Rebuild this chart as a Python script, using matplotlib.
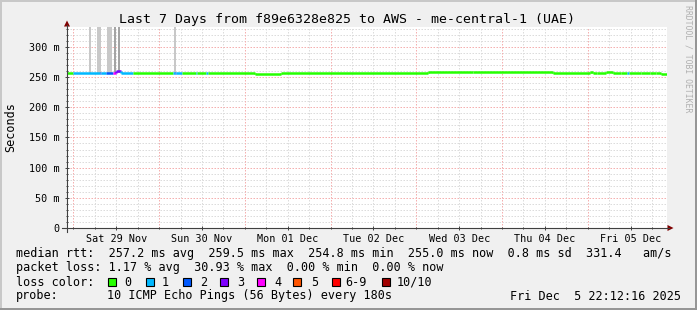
import matplotlib
matplotlib.use('Agg')
import matplotlib.pyplot as plt
from matplotlib.lines import Line2D
from matplotlib.patches import Polygon, Rectangle
from matplotlib.ticker import MultipleLocator, FixedLocator

# ---------------- data (hours since Sat 29 Nov 00:00) ----------------
T_START = -1.8
T_END = 166.2

seg_start = [-1.8, 0.0, 7.3, 7.6, 9.0, 11.2, 11.8, 13.4, 16.8, 28.0, 28.3, 28.8,
             30.5, 34.2, 34.7, 37.2, 37.8, 50.7, 58.2, 99.4, 112.0, 134.4,
             144.5, 145.6, 146.7, 149.2, 151.2, 153.4, 155.1, 155.6, 159.0,
             161.3, 163.2, 164.6]
seg_median = [257.5, 257.5, 257.5, 257.5, 257.5, 257.5, 259.5, 257.5, 257.5, 257.5,
              257.5, 257.5, 257.5, 257.5, 257.5, 257.5, 257.5, 255.8, 257.5, 258.8,
              258.2, 257.5, 258.8, 256.0, 257.5, 258.5, 256.5, 257.5, 257.5, 256.8,
              257.5, 257.0, 256.0, 255.0]
seg_loss = [0, 1, 2, 1, 2, 4, 3, 1, 0, 1, 2, 1, 0, 1, 0, 1, 0, 0, 0, 0, 0, 0,
            0, 0, 0, 0, 0, 0, 1, 0, 0, 0, 0, 0]

smoke_start = [4.4, 6.7, 9.5, 11.4, 12.5, 28.2]
smoke_end = [4.8, 7.8, 10.9, 11.8, 13.0, 28.7]
smoke_bottom = [257.0, 257.0, 257.0, 257.0, 257.0, 257.0]
smoke_top = [820.0, 760.0, 900.0, 1200.0, 1100.0, 700.0]
smoke_dense = [0, 0, 0, 1, 1, 0]

loss_labels = ['0', '1', '2', '3', '4', '5', '6-9', '10/10']
loss_colors = ['#26ff00', '#00b8ff', '#0059ff', '#7e00ff', '#ff00ff',
               '#ff5500', '#ff0000', '#a10000']

day_labels = ['Sat 29 Nov', 'Sun 30 Nov', 'Mon 01 Dec', 'Tue 02 Dec',
              'Wed 03 Dec', 'Thu 04 Dec', 'Fri 05 Dec']
y_ticks = [0, 50, 100, 150, 200, 250, 300]
y_labels = ['0', '50 m', '100 m', '150 m', '200 m', '250 m', '300 m']

title = 'Last 7 Days from f89e6328e825 to AWS - me-central-1 (UAE)'
rtt_line = 'median rtt:  257.2 ms avg  259.5 ms max  254.8 ms min  255.0 ms now  0.8 ms sd  331.4   am/s'
loss_line = 'packet loss: 1.17 % avg  30.93 % max  0.00 % min  0.00 % now'
probe_text = '10 ICMP Echo Pings (56 Bytes) every 180s'
stamp = 'Fri Dec  5 22:12:16 2025'

# ---------------- figure ----------------
W, H = 697, 310
MONO = 'DejaVu Sans Mono'
plt.rcParams['font.family'] = [MONO]
fig = plt.figure(figsize=(W / 100, H / 100), dpi=100)
fig.patch.set_facecolor('#f0f0f0')


def fx(x):
    return x / W


def fy(y):
    return 1 - y / H


ax = fig.add_axes([fx(67), fy(228), 600 / W, 201 / H])
ax.set_facecolor('white')
ax.set_xlim(T_START, T_END)
ax.set_ylim(0, 333)
for s in ax.spines.values():
    s.set_visible(False)

dot = (0, (1.5, 1.5))
GRID = '#dcdcdc'
MGRID = '#f5b0b0'
# grid
for y in range(10, 334, 10):
    if y % 50:
        ax.axhline(y, color=GRID, lw=0.72, ls=dot, zorder=0)
for y in range(50, 334, 50):
    ax.axhline(y, color=MGRID, lw=0.72, ls=dot, zorder=0.5)
h = 0
while h <= T_END:
    if h >= T_START:
        if h % 24:
            ax.axvline(h, color=GRID, lw=0.72, ls=dot, zorder=0)
        else:
            ax.axvline(h, color=MGRID, lw=0.72, ls=dot, zorder=0.5)
    h += 6

# smoke
for i in range(len(smoke_start)):
    ax.bar(smoke_start[i], smoke_top[i] - smoke_bottom[i],
           width=smoke_end[i] - smoke_start[i], bottom=smoke_bottom[i],
           align='edge', color='#a4a4a4' if smoke_dense[i] else '#c8c8c8',
           lw=0, zorder=1)

# median line coloured by loss
n = len(seg_start)
for i in range(n):
    x0 = seg_start[i]
    x1 = seg_start[i + 1] if i + 1 < n else T_END
    v = seg_median[i]
    c = loss_colors[seg_loss[i]]
    ax.plot([x0, x1], [v, v], color=c, lw=1.8, solid_capstyle='butt', zorder=3)
    if i > 0 and seg_median[i - 1] != v:
        ax.plot([x0, x0], [seg_median[i - 1], v], color=c, lw=1.8,
                solid_capstyle='butt', zorder=3)

# ticks
ax.set_yticks(y_ticks)
ax.set_yticklabels(y_labels)
ax.yaxis.set_minor_locator(MultipleLocator(10))
noon = [12 + 24 * k for k in range(len(day_labels))]
ax.set_xticks(noon)
ax.set_xticklabels(day_labels)
ax.xaxis.set_minor_locator(FixedLocator([6 * k for k in range(0, 28)]))
ax.tick_params(axis='both', which='both', direction='inout', color='#404040',
               width=0.7, labelsize=7.3)
ax.tick_params(axis='both', which='major', length=3)
ax.tick_params(axis='both', which='minor', length=2)
ax.tick_params(axis='y', pad=4)
ax.tick_params(axis='x', pad=3)

# axes lines with arrows
fig.add_artist(Line2D([fx(62), fx(669)], [fy(228), fy(228)], color='#404040', lw=0.8))
fig.add_artist(Line2D([fx(67), fx(67)], [fy(232), fy(25)], color='#404040', lw=0.8))
fig.add_artist(Polygon([(fx(667.5), fy(225)), (fx(667.5), fy(231)), (fx(673.5), fy(228))],
                       closed=True, color='#800000', lw=0))
fig.add_artist(Polygon([(fx(64), fy(26.5)), (fx(70), fy(26.5)), (fx(67), fy(20.5))],
                       closed=True, color='#800000', lw=0))

# frame
fig.add_artist(Rectangle((0, fy(2)), 1, 2 / H, color='#c8c8c8', lw=0))
fig.add_artist(Rectangle((0, 0), 2 / W, 1, color='#c8c8c8', lw=0))
fig.add_artist(Rectangle((0, 0), 1, 2 / H, color='#969696', lw=0))
fig.add_artist(Rectangle((1 - 2 / W, 0), 2 / W, 1, color='#969696', lw=0))

# texts
fig.text(fx(347), fy(19), title, ha='center', va='center', fontsize=9.5)
fig.text(fx(11), fy(127.5), 'Seconds', ha='center', va='center', rotation=90,
         fontsize=8.5)
fig.text(fx(688), fy(59), 'RRDTOOL / TOBI OETIKER', ha='center', va='center',
         rotation=270, fontsize=5.9, color='#b0b0b0')

fig.text(fx(16), fy(254), rtt_line, ha='left', va='center', fontsize=8.5)
fig.text(fx(16), fy(268), loss_line, ha='left', va='center', fontsize=8.5)
fig.text(fx(16), fy(282), 'loss color:', ha='left', va='center', fontsize=8.5)
sq_x = [108, 146, 183, 220, 257, 293, 332, 382]
lab_x = [124, 162, 200, 237, 274, 311, 345, 397]
for i in range(len(loss_labels)):
    fig.add_artist(Rectangle((fx(sq_x[i]), fy(286)), 8 / W, 8 / H,
                             facecolor=loss_colors[i], edgecolor='black', lw=0.8))
    fig.text(fx(lab_x[i]), fy(282), loss_labels[i], ha='left', va='center',
             fontsize=8.5)
fig.text(fx(16), fy(296), 'probe:', ha='left', va='center', fontsize=8.5)
fig.text(fx(107), fy(296), probe_text, ha='left', va='center', fontsize=8.5)
fig.text(fx(681), fy(296), stamp, ha='right', va='center', fontsize=8.5)

fig.savefig('out.png', dpi=100, facecolor=fig.get_facecolor())
